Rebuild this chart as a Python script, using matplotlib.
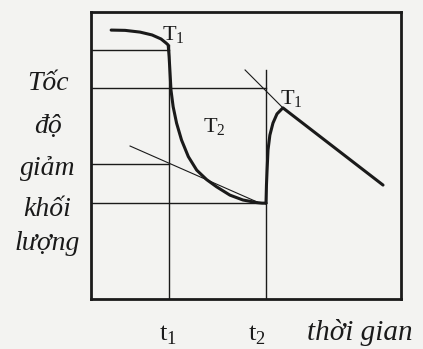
import matplotlib
matplotlib.use('Agg')
import matplotlib.pyplot as plt

plt.rcParams['font.family'] = ['Liberation Serif', 'DejaVu Serif']
plt.rcParams['mathtext.fontset'] = 'custom'
plt.rcParams['mathtext.rm'] = 'Liberation Serif'

# time marks
t1 = 2.52
t2 = 5.645

# mass-loss rate curve, stage T1 then T2 (until t2)
curve1_x = [0.65, 1.10, 1.58, 1.97, 2.26, 2.42, 2.49, 2.52, 2.55, 2.58, 2.65, 2.76,
            2.92, 3.14, 3.41, 3.73, 4.05, 4.48, 4.90, 5.34, 5.52, 5.645]
curve1_y = [9.37, 9.36, 9.30, 9.20, 9.06, 8.92, 8.85, 8.44, 7.87, 7.28, 6.70, 6.13,
            5.54, 4.96, 4.49, 4.16, 3.91, 3.62, 3.45, 3.36, 3.34, 3.34]

# after t2: rise then linear decrease (T1 again)
curve2_x = [5.645, 5.66, 5.68, 5.71, 5.77, 5.87, 6.00, 6.19, 9.42]
curve2_y = [3.34, 3.97, 4.49, 5.19, 5.71, 6.13, 6.45, 6.66, 3.97]

# tangent lines
tan1_x = [1.26, 5.36]
tan1_y = [5.33, 3.38]
tan2_x = [4.97, 6.19]
tan2_y = [7.98, 6.66]

# horizontal reference levels and how far they reach
levels = [8.68, 7.35, 4.70, 3.34]
level_ends = [t1, t2, t1, t2]
vline_tops = [8.85, 7.98]

ylabel_words = ['Tốc', 'độ', 'giảm', 'khối', 'lượng']
ylabel_y = [7.28, 5.78, 4.32, 2.89, 1.71]

ink = '#1a1a1a'
bg = '#f3f3f1'

fig = plt.figure(figsize=(4.23, 3.49), dpi=100, facecolor=bg)
ax = fig.add_axes([91/423, 1 - 299/349, 310/423, 287/349])
ax.set_facecolor(bg)
ax.set_xlim(0, 10)
ax.set_ylim(0, 10)
ax.set_xticks([])
ax.set_yticks([])
for s in ax.spines.values():
    s.set_linewidth(2.0)
    s.set_color(ink)

for lv, end in zip(levels, level_ends):
    ax.plot([0, end], [lv, lv], color=ink, lw=1.0)
ax.plot([t1, t1], [0, vline_tops[0]], color=ink, lw=1.0)
ax.plot([t2, t2], [0, vline_tops[1]], color=ink, lw=1.0)

ax.plot(tan1_x, tan1_y, color=ink, lw=0.8)
ax.plot(tan2_x, tan2_y, color=ink, lw=0.8)

ax.plot(curve1_x, curve1_y, color=ink, lw=2.2, solid_capstyle='round', solid_joinstyle='round')
ax.plot(curve2_x, curve2_y, color=ink, lw=2.2, solid_capstyle='round', solid_joinstyle='round')

ax.text(2.29, 9.02, r'T$_1$', fontsize=16, color=ink, va='baseline')
ax.text(3.61, 5.82, r'T$_2$', fontsize=16, color=ink, va='baseline')
ax.text(6.10, 6.79, r'T$_1$', fontsize=16, color=ink, va='baseline')

for w, y in zip(ylabel_words, ylabel_y):
    ax.text(-1.40, y, w, fontsize=20, style='italic', color=ink,
            ha='center', va='baseline', clip_on=False)

ax.text(2.48, -1.43, r't$_1$', fontsize=19, color=ink, ha='center',
        va='baseline', clip_on=False)
ax.text(5.35, -1.43, r't$_2$', fontsize=19, color=ink, ha='center',
        va='baseline', clip_on=False)
ax.text(6.97, -1.43, 'thời gian', fontsize=21, style='italic', color=ink,
        ha='left', va='baseline', clip_on=False)

fig.savefig('out.png', dpi=100, facecolor=bg)
